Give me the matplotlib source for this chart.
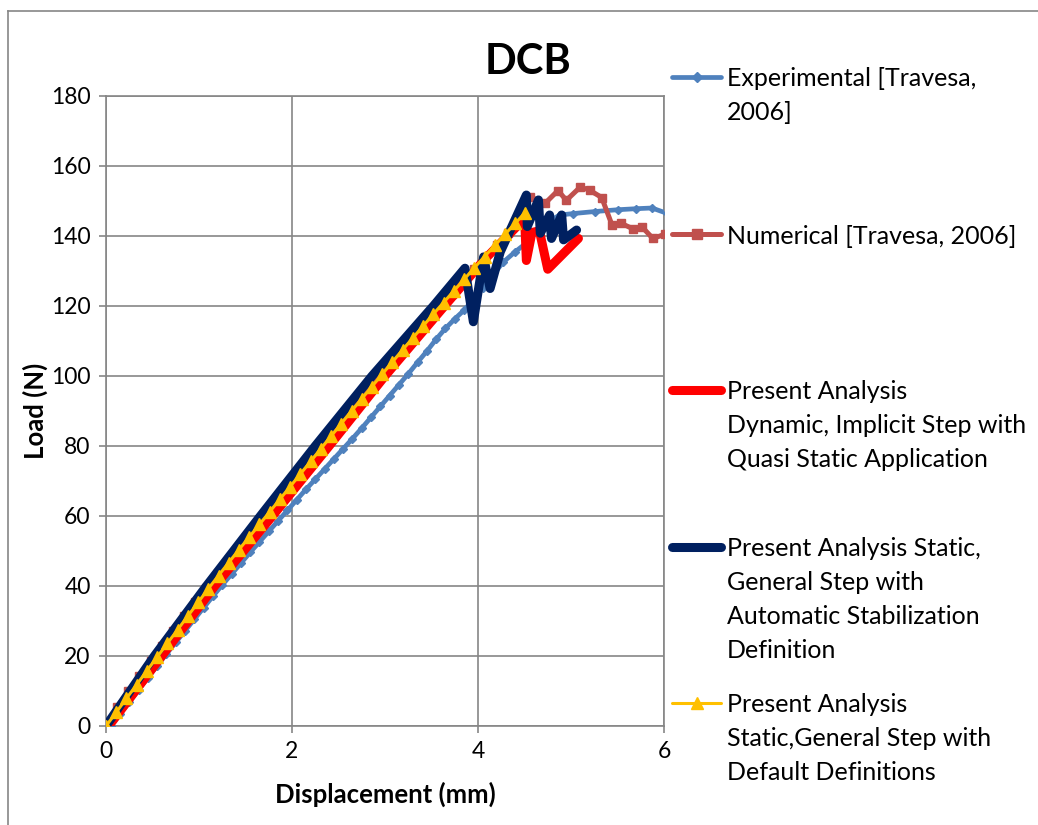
import matplotlib
matplotlib.use("Agg")
import matplotlib.pyplot as plt
from matplotlib.lines import Line2D

plt.rcParams['font.family'] = ['Lato', 'DejaVu Sans']

# ---------------- data ----------------
exp_x = [0.05, 0.15, 0.25, 0.35, 0.45, 0.55, 0.65, 0.75, 0.85, 0.95, 1.05, 1.15, 1.25, 1.35,
         1.45, 1.55, 1.65, 1.75, 1.85, 1.95, 2.05, 2.15, 2.25, 2.35, 2.45, 2.55, 2.65, 2.75,
         2.85, 2.95, 3.05, 3.15, 3.25, 3.35, 3.45, 3.55, 3.65, 3.75, 3.85, 3.95, 4.05, 4.15,
         4.27, 4.40, 4.52, 4.64, 4.76, 4.88, 5.02, 5.26, 5.50, 5.70, 5.87, 6.03]
exp_y = [0.0, 3.4, 6.9, 10.3, 13.8, 17.2, 20.6, 23.9, 27.2, 30.5, 33.8, 37.1, 40.3, 43.4,
         46.5, 49.6, 52.6, 55.6, 58.6, 61.6, 64.6, 67.6, 70.5, 73.4, 76.3, 79.2, 82.1, 85.1,
         88.2, 91.3, 94.4, 97.5, 100.6, 103.9, 107.1, 110.5, 113.6, 116.3, 118.8, 121.9, 125.2, 128.5,
         132.5, 135.5, 138.0, 141.5, 144.2, 146.0, 146.4, 147.0, 147.5, 147.8, 148.0, 146.5]

num_x = [0.00, 0.12, 0.24, 0.36, 0.48, 0.60, 0.72, 0.84, 0.96, 1.08, 1.20, 1.32, 1.44, 1.56,
         1.68, 1.80, 1.92, 2.04, 2.16, 2.28, 2.40, 2.52, 2.64, 2.76, 2.88, 3.00, 3.12, 3.24,
         3.36, 3.48, 3.60, 3.72, 3.84, 3.96, 4.08, 4.20, 4.32, 4.44, 4.56, 4.72, 4.86, 4.95,
         5.10, 5.20, 5.33, 5.44, 5.54, 5.67, 5.76, 5.88, 6.01]
num_y = [0.0, 5.5, 9.9, 14.3, 18.6, 22.9, 27.1, 31.3, 35.4, 39.5, 43.6, 47.6, 51.6, 55.6,
         59.6, 63.5, 67.4, 71.3, 75.2, 79.1, 82.9, 86.7, 90.5, 94.3, 98.0, 101.7, 105.4, 109.1,
         112.7, 116.3, 119.9, 123.5, 127.0, 130.5, 134.0, 137.5, 140.9, 144.3, 151.2, 149.3, 153.0, 150.2,
         154.0, 153.1, 151.0, 143.2, 143.6, 142.0, 142.7, 139.3, 140.5]

dyn_x = [0.03, 0.60, 1.17, 1.79, 2.40, 3.00, 3.64, 4.06, 4.45, 4.50, 4.52, 4.58, 4.66, 4.75, 5.08]
dyn_y = [0.0, 20.0, 40.0, 60.0, 80.0, 100.0, 120.0, 133.0, 143.6, 146.0, 133.0, 141.0, 141.5, 130.5, 139.3]

stab_x = [0.00, 0.52, 1.08, 1.66, 2.25, 2.86, 3.52, 3.86, 3.95, 4.06, 4.13, 4.24, 4.52, 4.53,
          4.65, 4.67, 4.77, 4.79, 4.90, 4.92, 5.06]
stab_y = [0.0, 20.0, 40.0, 60.0, 80.0, 100.0, 120.0, 130.8, 115.5, 134.0, 125.0, 135.5, 151.7, 142.7,
          150.3, 140.8, 146.0, 139.3, 146.0, 138.9, 141.7]

def_x = [0.00, 0.11, 0.22, 0.33, 0.44, 0.55, 0.66, 0.77, 0.88, 0.99, 1.10, 1.21, 1.32, 1.43,
         1.54, 1.65, 1.76, 1.87, 1.98, 2.09, 2.20, 2.31, 2.42, 2.53, 2.64, 2.75, 2.86, 2.97,
         3.08, 3.19, 3.30, 3.41, 3.52, 3.63, 3.74, 3.85, 3.96, 4.07, 4.18, 4.29, 4.40, 4.50]
def_y = [0.0, 3.9, 7.9, 11.8, 15.8, 19.7, 23.6, 27.5, 31.4, 35.3, 39.2, 43.0, 46.7, 50.4,
         54.0, 57.6, 61.2, 64.8, 68.4, 72.0, 75.6, 79.2, 82.8, 86.4, 90.0, 93.5, 97.0, 100.5,
         104.0, 107.5, 110.9, 114.3, 117.7, 121.0, 124.3, 127.6, 130.9, 134.1, 137.3, 140.5, 143.6, 146.5]

x_ticks = [0, 2, 4, 6]
y_ticks = [0, 20, 40, 60, 80, 100, 120, 140, 160, 180]

title = "DCB"
x_label = "Displacement (mm)"
y_label = "Load (N)"

legend_labels = [
    ["Experimental [Travesa,", "2006]"],
    ["Numerical [Travesa, 2006]"],
    ["Present Analysis", "Dynamic, Implicit Step with", "Quasi Static Application"],
    ["Present Analysis Static,", "General Step with", "Automatic Stabilization", "Definition"],
    ["Present Analysis", "Static,General Step with", "Default Definitions"],
]

# ---------------- styles ----------------
C_EXP = "#4F81BD"
C_NUM = "#C0504D"
C_DYN = "#FF0000"
C_STAB = "#002060"
C_DEF = "#FFC000"
GRID = "#868686"

W, H = 1038, 825
fig = plt.figure(figsize=(W / 100, H / 100), dpi=100)
ax = fig.add_axes([106 / W, 1 - 726 / H, 558 / W, 630 / H])

styles = [
    dict(color=C_EXP, lw=3.4, marker="D", ms=4.5, mec=C_EXP, mfc=C_EXP),
    dict(color=C_NUM, lw=3.6, marker="s", ms=6, mec=C_NUM, mfc=C_NUM),
    dict(color=C_DYN, lw=6.5, marker=None),
    dict(color=C_STAB, lw=6.5, marker=None),
    dict(color=C_DEF, lw=2.2, marker="^", ms=8, mec=C_DEF, mfc=C_DEF),
]
series = [(exp_x, exp_y), (num_x, num_y), (dyn_x, dyn_y), (stab_x, stab_y), (def_x, def_y)]
for i, ((xs, ys), st) in enumerate(zip(series, styles)):
    ax.plot(xs, ys, solid_capstyle="round", solid_joinstyle="round", zorder=3 + i, clip_on=True, **st)

ax.set_xlim(0, 6)
ax.set_ylim(0, 180)
ax.set_xticks(x_ticks)
ax.set_yticks(y_ticks)
ax.grid(True, color=GRID, lw=1.2)
ax.set_axisbelow(True)
for s in ax.spines.values():
    s.set_color(GRID)
    s.set_linewidth(1.2)
ax.tick_params(axis="both", direction="out", length=5, width=1.2, color=GRID,
               labelsize=16.5, labelcolor="black", pad=6)
ax.set_xlabel(x_label, fontsize=18.5, fontweight="bold", labelpad=14)
ax.set_ylabel(y_label, fontsize=18.5, fontweight="bold", labelpad=2)

fig.text(528 / W, 1 - 62 / H, title, fontsize=30, fontweight="bold", ha="center", va="center")

# frame around the chart area
fig.add_artist(Line2D([8 / W, 8 / W], [0, 1 - 11 / H], transform=fig.transFigure, color=GRID, lw=1.2))
fig.add_artist(Line2D([8 / W, 1], [1 - 11 / H, 1 - 11 / H], transform=fig.transFigure, color=GRID, lw=1.2))

# legend (manual)
leg_y0 = [77, 234, 390, 547, 703]
line_step = 33.7
for lab, st, y0 in zip(legend_labels, styles, leg_y0):
    yf = 1 - y0 / H
    fig.add_artist(Line2D([672 / W, 721 / W], [yf, yf], transform=fig.transFigure,
                          color=st["color"], lw=st["lw"], solid_capstyle="round"))
    if st.get("marker"):
        fig.add_artist(Line2D([697 / W], [yf], transform=fig.transFigure, color=st["color"],
                              marker=st["marker"], ms=st["ms"] * 1.1, mec=st["color"], mfc=st["color"], lw=0))
    for k, t in enumerate(lab):
        fig.text(727 / W, 1 - (y0 + k * line_step) / H, t, fontsize=18, ha="left", va="center_baseline")

fig.savefig("out.png", dpi=100)
